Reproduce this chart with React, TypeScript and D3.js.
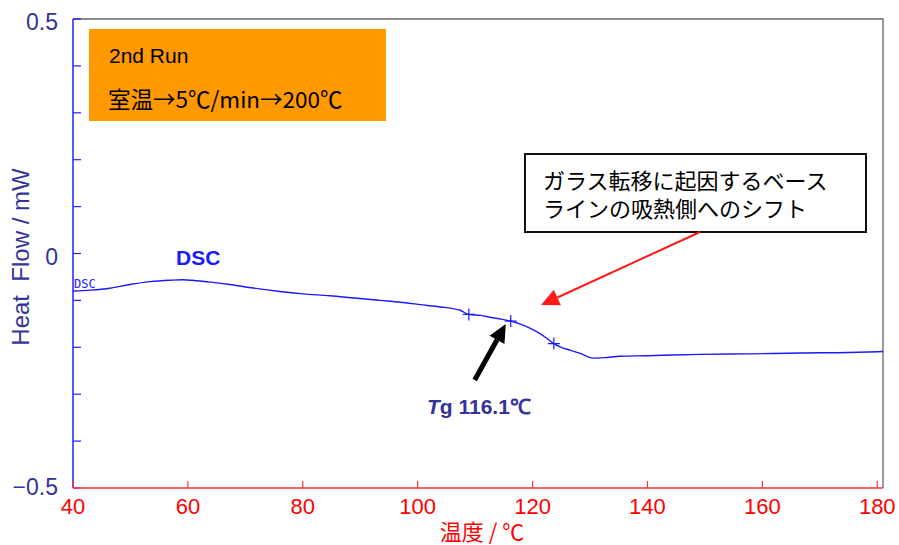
import React, { useEffect, useRef } from "react";
import * as d3 from "d3";

// DSC curve, 2nd run (temperature in °C, heat flow in mW)
const temps = [40, 43, 46.4, 49.9, 53.4, 56.9, 59, 61.6, 64, 67.3, 71, 76, 80, 84.7, 89, 93.4, 97, 100.4, 104, 107.4, 108.9, 111, 112.6, 114.5, 116.2, 118, 119.7, 121.3, 122.6, 123.7, 125, 126.5, 128.3, 130.5, 132.5, 135.2, 140, 149.1, 158, 166.5, 175, 181];
const heatFlow = [-0.08, -0.078, -0.074, -0.066, -0.06, -0.057, -0.056, -0.058, -0.061, -0.066, -0.073, -0.081, -0.086, -0.09, -0.095, -0.1, -0.104, -0.109, -0.114, -0.121, -0.13, -0.132, -0.136, -0.14, -0.144, -0.151, -0.16, -0.171, -0.182, -0.192, -0.2, -0.206, -0.213, -0.223, -0.222, -0.219, -0.218, -0.215, -0.214, -0.212, -0.211, -0.209];

// Tg analysis markers (onset, midpoint, endset)
const markerTemps = [108.9, 116.2, 123.7];
const markerValues = [-0.13, -0.144, -0.192];

const xTicks = [40, 60, 80, 100, 120, 140, 160, 180];
const yMajor = [0.5, 0, -0.5];
const yMinor = [0.5, 0.4, 0.3, 0.2, 0.1, 0, -0.1, -0.2, -0.3, -0.4, -0.5];

const conditionLines = ["2nd Run", "室温→5℃/min→200℃"];
const noteLines = ["ガラス転移に起因するベース", "ラインの吸熱側へのシフト"];

const W = 899;
const H = 545;
const margin = { top: 19, right: 16, bottom: 57, left: 73 };
const latin = "'Liberation Sans', Arial, sans-serif";
const jp = "'Noto Sans CJK JP', 'Liberation Sans', sans-serif";
const navy = "#333399";

export default function App() {
  const ref = useRef<SVGSVGElement>(null);

  useEffect(() => {
    const svg = d3.select(ref.current);
    svg.selectAll("*").remove();

    const x = d3.scaleLinear().domain([40, 181]).range([margin.left, W - margin.right]);
    const y = d3.scaleLinear().domain([-0.5, 0.5]).range([H - margin.bottom, margin.top]);
    const x0 = margin.left, x1 = W - margin.right, y0 = margin.top, y1 = H - margin.bottom;

    // frame (top + right)
    svg.append("path")
      .attr("d", `M${x0},${y0}H${x1}V${y1}`)
      .attr("fill", "none").attr("stroke", "#666").attr("stroke-width", 1.3);

    // orange condition box
    const cb = svg.append("g");
    cb.append("rect").attr("x", 89).attr("y", 29).attr("width", 297).attr("height", 92).attr("fill", "#ff9900");
    cb.append("text").attr("x", 109).attr("y", 63).attr("font-family", latin).attr("font-size", 21).text(conditionLines[0]);
    cb.append("text").attr("x", 108).attr("y", 108).attr("font-family", jp).attr("font-size", 22.5).text(conditionLines[1]);

    // note box
    const nb = svg.append("g");
    nb.append("rect").attr("x", 525).attr("y", 154).attr("width", 341).attr("height", 78)
      .attr("fill", "#fff").attr("stroke", "#111").attr("stroke-width", 2);
    noteLines.forEach((t, i) =>
      nb.append("text").attr("x", 543).attr("y", 189 + i * 28).attr("font-family", jp).attr("font-size", 22).text(t)
    );

    // y axis (left), ticks pointing inward
    svg.append("line").attr("x1", x0).attr("x2", x0).attr("y1", y0).attr("y2", y1)
      .attr("stroke", "#2020ff").attr("stroke-width", 1.5);
    svg.selectAll(".yt").data(yMinor).enter().append("line")
      .attr("x1", x0).attr("x2", x0 + 8).attr("y1", d => y(d)).attr("y2", d => y(d))
      .attr("stroke", "#2020ff").attr("stroke-width", 1.2);
    svg.selectAll(".yl").data(yMajor).enter().append("text")
      .attr("x", 58).attr("y", d => y(d) + (d < 0 ? 7 : 11)).attr("text-anchor", "end")
      .attr("font-family", latin).attr("font-size", 23).attr("fill", navy)
      .text(d => (d === 0 ? "0" : d3.format(".1f")(d)));

    // x axis (bottom), ticks pointing upward
    svg.append("line").attr("x1", x0).attr("x2", x1).attr("y1", y1).attr("y2", y1)
      .attr("stroke", "#ff3333").attr("stroke-width", 1.5);
    svg.selectAll(".xt").data(xTicks).enter().append("line")
      .attr("x1", d => x(d)).attr("x2", d => x(d)).attr("y1", y1).attr("y2", y1 - 7)
      .attr("stroke", "#ff3333").attr("stroke-width", 1.2);
    svg.selectAll(".xl").data(xTicks).enter().append("text")
      .attr("x", d => x(d)).attr("y", 514).attr("text-anchor", "middle")
      .attr("font-family", latin).attr("font-size", 22).attr("fill", "#ff0000")
      .text(d => d);

    // axis titles
    svg.append("text").attr("x", 482).attr("y", 540).attr("text-anchor", "middle")
      .attr("font-family", jp).attr("font-size", 22).attr("fill", "#ff0000").text("温度 / ℃");
    svg.append("text").attr("transform", "translate(29,257) rotate(-90)").attr("text-anchor", "middle")
      .attr("font-family", latin).attr("font-size", 24).attr("fill", navy)
      .attr("xml:space", "preserve").text("Heat  Flow / mW");

    // DSC curve
    const pts = temps.map((t, i) => [t, heatFlow[i]] as [number, number]);
    const line = d3.line<[number, number]>().x(d => x(d[0])).y(d => y(d[1])).curve(d3.curveMonotoneX);
    svg.append("path").datum(pts).attr("d", line)
      .attr("fill", "none").attr("stroke", "#1a1aff").attr("stroke-width", 1.4);

    // small curve label at left edge
    svg.append("text").attr("x", x0 + 1).attr("y", y(heatFlow[0]) - 3)
      .attr("font-family", "'DejaVu Sans Mono', monospace").attr("font-size", 12).attr("fill", "#2020ff").text("DSC");
    svg.append("text").attr("x", 176).attr("y", 265)
      .attr("font-family", latin).attr("font-weight", "bold").attr("font-size", 21).attr("fill", "#1a1aff").text("DSC");

    // Tg markers
    markerTemps.forEach((t, i) => {
      const cx = x(t), cy = y(markerValues[i]);
      svg.append("path").attr("d", `M${cx - 6},${cy}H${cx + 6}M${cx},${cy - 6}V${cy + 6}`)
        .attr("stroke", "#1a1aff").attr("stroke-width", 1.2);
    });

    const drawArrow = (ax: number, ay: number, bx: number, by: number, color: string, w: number, hl: number, hw: number) => {
      const ang = Math.atan2(by - ay, bx - ax);
      const baseX = bx - hl * Math.cos(ang), baseY = by - hl * Math.sin(ang);
      svg.append("line").attr("x1", ax).attr("y1", ay).attr("x2", baseX).attr("y2", baseY)
        .attr("stroke", color).attr("stroke-width", w);
      const px = -Math.sin(ang) * hw / 2, py = Math.cos(ang) * hw / 2;
      svg.append("path").attr("d", `M${bx},${by}L${baseX + px},${baseY + py}L${baseX - px},${baseY - py}Z`).attr("fill", color);
    };

    // black arrow to Tg midpoint
    const tipX = x(markerTemps[1]) - 5, tipY = y(markerValues[1]) + 3;
    drawArrow(tipX - 31, tipY + 56, tipX, tipY, "#000", 5, 18, 17);

    // red arrow from note box
    drawArrow(700, 232, 541, 305, "#ff1a1a", 2, 18, 17);

    // Tg label
    const tg = svg.append("text").attr("x", 427).attr("y", 414)
      .attr("font-family", latin).attr("font-weight", "bold").attr("font-size", 21).attr("fill", navy);
    tg.append("tspan").attr("font-style", "italic").text("T");
    tg.append("tspan").text("g 116.1℃");
  }, []);

  return (
    <svg ref={ref} width={W} height={H} style={{ position: "absolute", left: 0, top: 0, background: "#fff" }} />
  );
}
